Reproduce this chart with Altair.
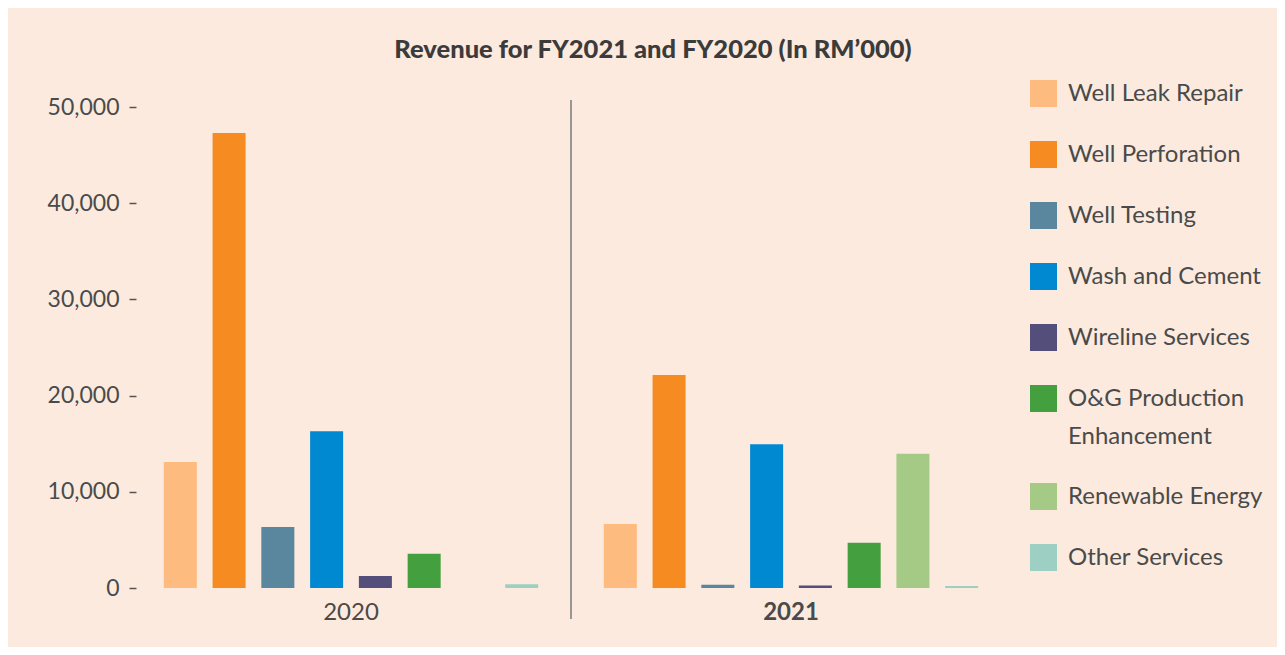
import altair as alt
import pandas as pd

categories = ["Well Leak Repair", "Well Perforation", "Well Testing", "Wash and Cement",
              "Wireline Services", "O&G Production Enhancement", "Renewable Energy", "Other Services"]
colors = ["#FDBB80", "#F68C21", "#5A869E", "#0089D0", "#544E7B", "#449F3E", "#A5CA85", "#9DCFC2"]
years = ["2020", "2021"]
rev_2020 = [13100, 47300, 6350, 16300, 1250, 3550, 0, 400]
rev_2021 = [6650, 22150, 350, 14950, 250, 4700, 13950, 200]
y_ticks = [0, 10000, 20000, 30000, 40000, 50000]

rows = []
for yr, vals in zip(years, [rev_2020, rev_2021]):
    for c, v in zip(categories, vals):
        rows.append({"year": yr, "category": c, "revenue": v})
df = pd.DataFrame(rows)

FONT = "Lato"
TXT = "#4a4a4a"
BG = "#FCEADF"

W, H = 870, 481
PAD_INNER = 50 / 440
PAD_OUTER = 20 / 440
STEP = W / (2 - PAD_INNER + 2 * PAD_OUTER)

x_scale = alt.Scale(domain=years, paddingInner=PAD_INNER, paddingOuter=PAD_OUTER)

bars = alt.Chart(df).mark_bar().encode(
    x=alt.X("year:N", scale=x_scale,
            axis=alt.Axis(title=None, labelAngle=0, ticks=False, domain=False,
                          labelFont=FONT, labelFontSize=24, labelColor=TXT, labelPadding=12,
                          labelFontWeight={"expr": "datum.value == '2021' ? 'bold' : 'normal'"})),
    xOffset=alt.XOffset("category:N", sort=categories,
                        scale=alt.Scale(domain=categories, paddingInner=0.323, paddingOuter=0.16)),
    y=alt.Y("revenue:Q", scale=alt.Scale(domain=[0, 50000], nice=False),
            axis=alt.Axis(title=None, values=y_ticks, format=",.0f", domain=False, grid=False,
                          tickSize=7, tickWidth=1.5, tickColor="#555555", labelPadding=10,
                          labelFont=FONT, labelFontSize=23, labelColor=TXT)),
    color=alt.Color("category:N", sort=categories,
                    scale=alt.Scale(domain=categories, range=colors),
                    legend=alt.Legend(
                        title=None, orient="none", legendX=894, legendY=-27,
                        symbolType="square", symbolSize=729, symbolStrokeWidth=0,
                        symbolOpacity=1, labelFont=FONT, labelFontSize=24,
                        labelColor=TXT, labelOffset=11, rowPadding=34, labelLimit=400,
                        padding=0,
                        labelExpr="datum.value == 'O&G Production Enhancement' ? ['O&G Production', 'Enhancement'] : datum.label",
                    )),
)

divider = alt.Chart(pd.DataFrame({"year": ["2021"]})).mark_rule(
    color="#7a7a7a", strokeWidth=1.5
).encode(
    x=alt.X("year:N", scale=x_scale, bandPosition=0),
    xOffset=alt.value(-PAD_INNER * STEP / 2),
    y=alt.value(-7),
    y2=alt.value(H + 31),
)

chart = alt.layer(bars, divider).properties(
    width=W, height=H,
    background=BG,
    padding={"left": 128, "top": 99, "right": 271, "bottom": 59},
    autosize=alt.AutoSizeParams(type="none"),
    title=alt.TitleParams("Revenue for FY2021 and FY2020 (In RM’000)", font=FONT, fontSize=25.5,
                          fontWeight=900, color="#3b3b3b", anchor="middle", dx=82, offset=17),
).configure(
    style={"guide-label": {"lineHeight": 38}},
    view=alt.ViewConfig(stroke=None),
)

chart.save("out.html", embed_options={"renderer": "svg", "actions": False})
